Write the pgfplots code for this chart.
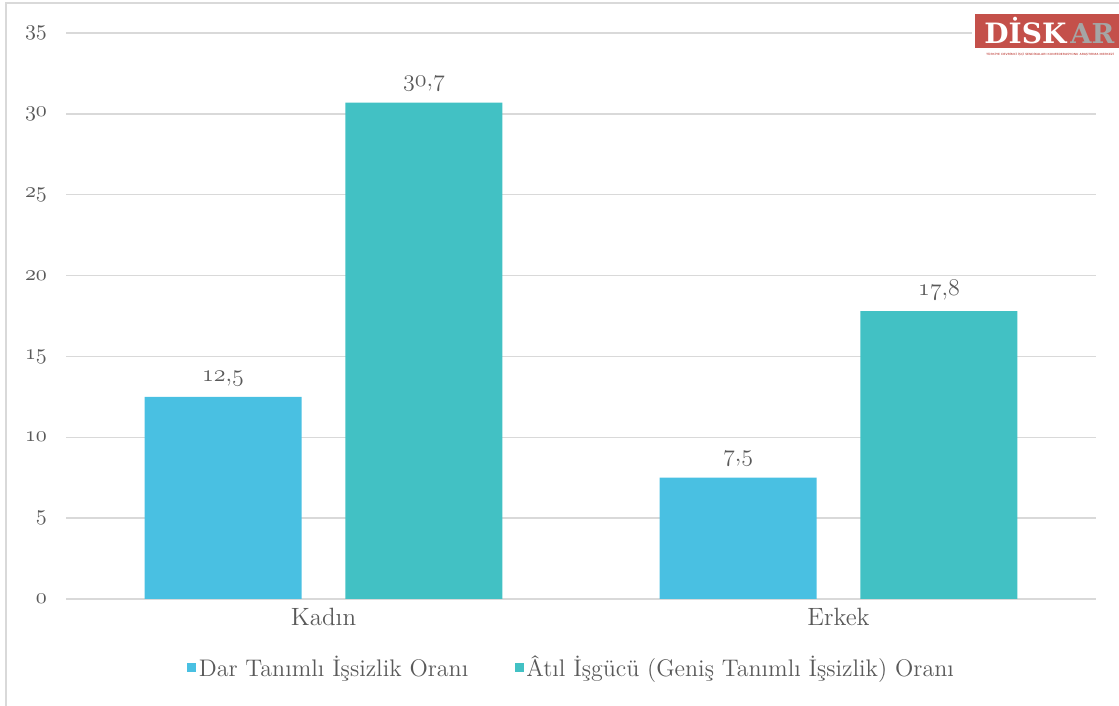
\documentclass[border=0pt]{standalone}
\usepackage[no-math]{fontspec}
\usepackage{graphicx}
\usepackage{pgfplots}
\pgfplotsset{compat=1.18}
\newfontfamily\logofont{DejaVu Serif}

\definecolor{darblue}{RGB}{73,192,226}
\definecolor{atilteal}{RGB}{66,193,196}
\definecolor{txtgray}{RGB}{89,89,89}
\definecolor{gridgray}{RGB}{217,217,217}
\definecolor{logored}{RGB}{196,80,74}
\definecolor{logogray}{RGB}{165,165,165}

\begin{document}
% old-style figures in math (tick labels, bar labels)
\mathcode`0="0130 \mathcode`1="0131 \mathcode`2="0132 \mathcode`3="0133
\mathcode`4="0134 \mathcode`5="0135 \mathcode`6="0136 \mathcode`7="0137
\mathcode`8="0138 \mathcode`9="0139
\begin{tikzpicture}
\useasboundingbox (0pt,0pt) rectangle (559.5pt,353pt);
% outer frame
\draw[gridgray, line width=0.75pt] (3pt,0pt) -- (3pt,351.5pt) -- (559.5pt,351.5pt);

\begin{axis}[
    at={(33pt,53.5pt)}, anchor=south west,
    scale only axis, width=515pt, height=283pt,
    xmin=-0.5, xmax=1.5, ymin=0, ymax=35,
    ybar, bar width=0.305,
    legend image code/.code={\fill[#1] (0pt,-2.2pt) rectangle (4.6pt,2.4pt);},
    xtick={0,1}, xticklabels={Kadın,Erkek},
    ytick={0,5,...,35},
    ymajorgrids, grid style={gridgray, line width=0.75pt},
    axis line style={draw=none},
    major tick length=0pt,
    yticklabel style={font=\fontsize{11}{13}\selectfont, text=txtgray, xshift=-6pt},
    xticklabel style={font=\fontsize{12.5}{14}\selectfont, text=txtgray, yshift=-1pt},
    nodes near coords={\pgfmathprintnumber[use comma,fixed,fixed zerofill,precision=1]{\pgfplotspointmeta}},
    every node near coord/.append style={font=\fontsize{12.5}{14}\selectfont, text=txtgray, yshift=2pt},
    legend columns=2,
    legend cell align=left,
    legend style={at={(0.491,-0.122)}, anchor=center, draw=none, fill=none,
        font=\fontsize{12}{14}\selectfont, text=txtgray,
        /tikz/every even column/.append style={column sep=22pt},
        nodes={inner sep=1.2pt}},
]
% Dar tanimli issizlik orani
\addplot[fill=darblue, draw=none, bar shift=-0.195] coordinates {(0,12.5) (1,7.5)};
% Atil isgucu orani
\addplot[fill=atilteal, draw=none, bar shift=0.195] coordinates {(0,30.7) (1,17.8)};
\legend{Dar Tanımlı İşsizlik Oranı, Âtıl İşgücü (Geniş Tanımlı İşsizlik) Oranı}
\end{axis}

% logo
\fill[white] (486pt,322pt) rectangle (559.5pt,348pt);
\fill[logored] (487.5pt,329pt) rectangle (559.5pt,346pt);
\node[anchor=base west, inner sep=0pt, text=white] at (492pt,331pt) {\resizebox{41pt}{!}{\logofont\bfseries DİSK}};
\node[anchor=base west, inner sep=0pt, text=logogray] at (535pt,331pt) {\resizebox{22pt}{!}{\logofont\bfseries AR}};
\node[anchor=center, inner sep=0pt, text=logored] at (525pt,325.8pt) {\resizebox{64pt}{!}{\sffamily\bfseries TÜRKİYE DEVRİMCİ İŞÇİ SENDİKALARI KONFEDERASYONU ARAŞTIRMA MERKEZİ}};
\end{tikzpicture}
\end{document}
